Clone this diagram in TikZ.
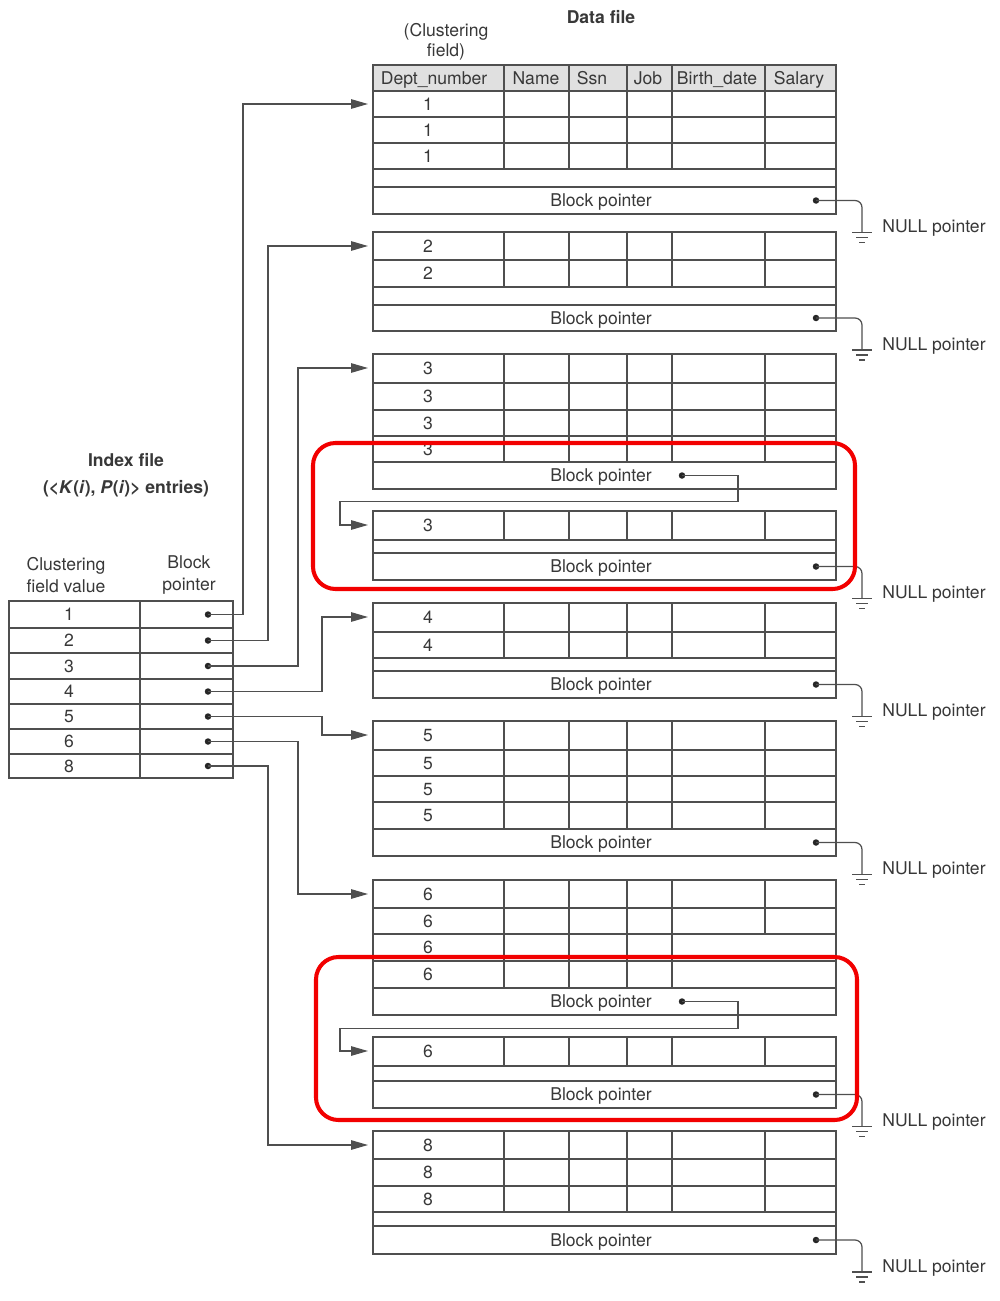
\documentclass[tikz,border=0pt]{standalone}
\usepackage{fontspec}
\setmainfont{TeX Gyre Heros}
\usetikzlibrary{arrows.meta}
\usepackage{xcolor}
\definecolor{LineGray}{HTML}{4F4F4F}
\definecolor{TextGray}{HTML}{383838}
\definecolor{HeadGray}{HTML}{E0E0E0}
\definecolor{MarkRed}{HTML}{F20000}
\tikzset{
    % Cells and text
    cell/.style={
        draw=LineGray,
        line width=0.8pt
    },
    txt/.style={
        text=TextGray,
        inner sep=0pt,
        text depth=0pt,
        font=\fontsize{10}{12}\selectfont
    },
    title/.style={
        text=TextGray,
        inner sep=0pt,
        align=center,
        font=\bfseries\fontsize{10}{15.5}\selectfont
    },
    caption/.style={
        text=TextGray,
        inner sep=0pt,
        align=center,
        font=\fontsize{10}{11.5}\selectfont
    },
    dot/.style={
        circle,
        fill=black!85,
        inner sep=0pt,
        minimum size=0.13cm
    },
    % Connectors
    link/.style={
        draw=LineGray,
        line width=0.7pt
    },
    arrow/.style={
        link,
        -{Triangle[length=0.34cm, width=0.19cm]},
        shorten >=0.1cm
    },
    redbox/.style={
        draw=MarkRed,
        line width=2.3pt,
        rounded corners=0.45cm
    }
}
% record row: [dividers]{top}{bottom}{value}
\newcommand{\recrow}[4][504,569,627,672,765]{%
    \draw[cell] (373,#2) rectangle (836,#3);
    \foreach \cx in {#1} \draw[cell] (\cx,#2) -- (\cx,#3);
    \node[txt] (r#2) at (428,{(#2+#3)/2}) {#4};
}
% empty row: {top}{bottom}
\newcommand{\gaprow}[2]{\draw[cell] (373,#1) rectangle (836,#2);}
% block pointer row: {top}{bottom}{dot x}{name}
\newcommand{\ptrrow}[4]{%
    \draw[cell] (373,#1) rectangle (836,#2);
    \node[txt] (#4t) at (601,{(#1+#2)/2}) {Block pointer};
    \node[dot] (#4) at (#3,{(#1+#2)/2}) {};
}
% null pointer with ground mark: {dot name}
\newcommand{\nullptr}[1]{%
    \draw[link, rounded corners=0.14cm] (#1.center) -| ++(46,32) coordinate (#1g);
    \draw[link] (#1g) ++(-10,0) -- ++(20,0) ++(-16,5) -- ++(12,0) ++(-9,5) -- ++(6,0);
    \path (#1g) ++(20,-6) node[txt, anchor=west] (#1n) {NULL pointer};
}

\begin{document}
\begin{tikzpicture}[x=0.02cm, y=-0.02cm]
    \useasboundingbox (0,0) rectangle (1000,1301);

    % Titles
    \node[title] (datafile) at (601,17) {Data file};
    \node[caption] (clfield) at (446,42) {(Clustering\\field)};
    \node[title] (indexfile) at (126,475) {Index file\\(<\textit{K}(\textit{i}), \textit{P}(\textit{i})> entries)};
    \node[caption, font=\fontsize{10}{12.5}\selectfont] (clval) at (66,575) {Clustering\\field value};
    \node[caption, font=\fontsize{10}{12.5}\selectfont] (blkptr) at (189,575) {Block\\pointer};

    % Header row
    \draw[cell, fill=HeadGray] (373,65) rectangle (836,91);
    \foreach \cx in {504,569,627,672,765} \draw[cell] (\cx,65) -- (\cx,91);
    \node[txt] (hdept) at (434,78) {Dept\_number};
    \node[txt] (hname) at (536,78) {Name};
    \node[txt] (hssn) at (592,78) {Ssn};
    \node[txt] (hjob) at (648,78) {Job};
    \node[txt] (hbirth) at (717,78) {Birth\_date};
    \node[txt] (hsal) at (799,78) {Salary};

    % Block 1
    \recrow{91}{117}{1}
    \recrow{117}{143}{1}
    \recrow{143}{169}{1}
    \gaprow{169}{187}
    \ptrrow{187}{214}{816}{bp1}
    \coordinate (blk1) at (373,104);

    % Block 2
    \recrow{232}{260}{2}
    \recrow{260}{287}{2}
    \gaprow{287}{305}
    \ptrrow{305}{331}{816}{bp2}
    \coordinate (blk2) at (373,246);

    % Block 3 and its overflow block
    \recrow{354}{383}{3}
    \recrow{383}{410}{3}
    \recrow{410}{436}{3}
    \recrow{436}{462}{3}
    \ptrrow{462}{489}{682}{bp3}
    \coordinate (blk3) at (373,368);
    \recrow{511}{540}{3}
    \gaprow{540}{553}
    \ptrrow{553}{580}{816}{bp3o}
    \coordinate (blk3o) at (373,525);

    % Block 4
    \recrow{603}{632}{4}
    \recrow{632}{658}{4}
    \gaprow{658}{671}
    \ptrrow{671}{698}{816}{bp4}
    \coordinate (blk4) at (373,617);

    % Block 5
    \recrow{721}{750}{5}
    \recrow{750}{776}{5}
    \recrow{776}{802}{5}
    \recrow{802}{829}{5}
    \ptrrow{829}{856}{816}{bp5}
    \coordinate (blk5) at (373,735);

    % Block 6 and its overflow block
    \recrow{880}{908}{6}
    \recrow{908}{934}{6}
    \recrow[504,569,627,672]{934}{961}{6}
    \recrow[504,569,627,672]{961}{988}{6}
    \ptrrow{988}{1015}{682}{bp6}
    \coordinate (blk6) at (373,894);
    \recrow{1037}{1066}{6}
    \gaprow{1066}{1081}
    \ptrrow{1081}{1108}{816}{bp6o}
    \coordinate (blk6o) at (373,1051);

    % Block 8
    \recrow{1131}{1159}{8}
    \recrow{1159}{1186}{8}
    \recrow{1186}{1212}{8}
    \gaprow{1212}{1226}
    \ptrrow{1226}{1254}{816}{bp8}
    \coordinate (blk8) at (373,1145);

    % Index file
    \foreach \v/\t/\b in {1/601/628, 2/628/653, 3/653/679, 4/679/704, 5/704/729, 6/729/754, 8/754/778} {
        \draw[cell] (9,\t) rectangle (233,\b);
        \draw[cell] (140,\t) -- (140,\b);
        \node[txt] (kv\v) at (69,{(\t+\b)/2}) {\v};
        \node[dot] (ip\v) at (208,{(\t+\b)/2}) {};
    }

    % Index pointers
    \draw[arrow] (ip1.center) -- ++(35,0) |- (blk1);
    \draw[arrow] (ip2.center) -- ++(60,0) |- (blk2);
    \draw[arrow] (ip3.center) -- ++(90,0) |- (blk3);
    \draw[arrow] (ip4.center) -- ++(114,0) |- (blk4);
    \draw[arrow] (ip5.center) -- ++(114,0) |- (blk5);
    \draw[arrow] (ip6.center) -- ++(90,0) |- (blk6);
    \draw[arrow] (ip8.center) -- ++(60,0) |- (blk8);

    % Overflow chains
    \draw[arrow] (bp3.center) -- ++(56,0) -- ++(0,26) -- ++(-398,0) |- (blk3o);
    \draw[arrow] (bp6.center) -- ++(56,0) -- ++(0,27) -- ++(-398,0) |- (blk6o);

    % NULL pointers
    \nullptr{bp1}
    \nullptr{bp2}
    \nullptr{bp3o}
    \nullptr{bp4}
    \nullptr{bp5}
    \nullptr{bp6o}
    \nullptr{bp8}

    % Highlights
    \draw[redbox] (313,443) rectangle (855,589);
    \draw[redbox] (316,957) rectangle (857,1120);
\end{tikzpicture}
\end{document}
